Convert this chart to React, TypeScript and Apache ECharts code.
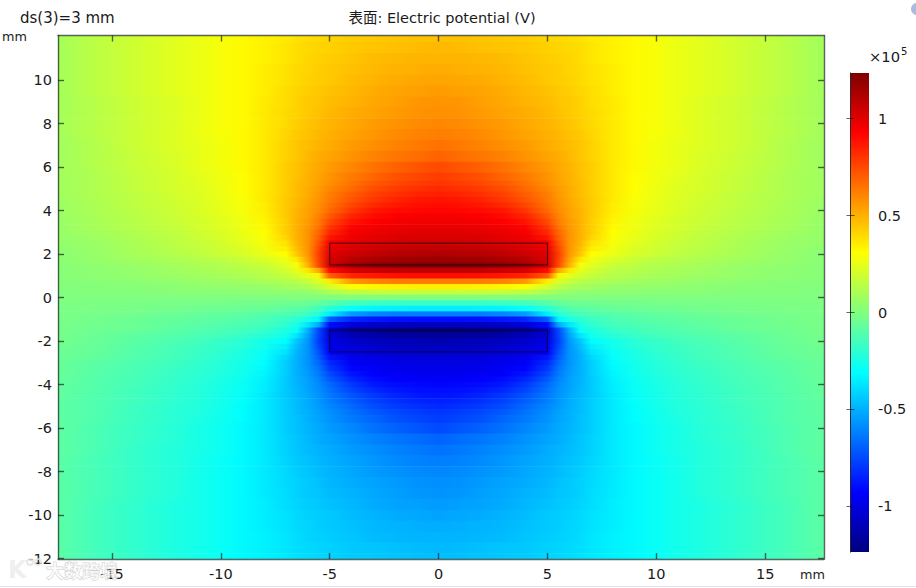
import React, { useEffect, useRef } from "react";
import * as echarts from "echarts";

// x nodes of the left half (mm); the right half reads as its mirror image
const xNodes = [-17.5,-16,-14,-12,-11,-10,-9,-8,-7,-6.5,-6,-5.5,-5,-4,-3,-2,-1,0];
const yNodes = [12,11.5,11,10.5,10,9.5,9,8.5,8,7.5,7,6.5,6,5.5,5.25,5,4.75,4.5,4.25,4,3.75,3.5,3.25,3,2.75,2.5,2.25,2,1.75,1.5,1.25,1,0.75,0.5,0.25,0,
  -0.25,-0.5,-0.75,-1,-1.25,-1.5,-1.75,-2,-2.25,-2.5,-2.75,-3,-3.25,-3.5,-3.75,-4,-4.25,-4.5,-4.75,-5,-5.25,-5.5,-6,-6.5,-7,-7.5,-8,-8.5,-9,-9.5,-10,-10.5,-11,-11.5,-12];
// potential, in units of 1e3 V
const potential = [
[9,14,19,24,26,29,32,34,36,38,39,40,41,43,44,45,46,46],
[9,14,19,24,26,29,32,34,37,39,40,41,42,44,45,46,47,48],
[9,14,19,24,26,29,32,34,37,39,41,42,43,45,47,48,49,49],
[9,14,19,24,26,29,32,35,38,40,41,43,44,46,48,49,50,51],
[9,14,19,24,26,29,32,35,38,40,42,43,44,47,49,51,52,53],
[9,14,19,24,26,29,32,35,39,41,43,44,46,48,51,53,54,55],
[9,13,18,23,26,29,32,36,39,42,44,45,47,49,52,54,56,57],
[9,13,18,23,26,29,32,36,40,42,44,46,48,51,53,55,57,58],
[9,13,18,23,26,29,32,36,40,43,45,47,49,52,55,57,59,60],
[9,13,18,23,26,29,32,36,41,44,46,48,50,53,56,59,61,62],
[8,12,18,23,25,28,32,36,42,45,47,49,51,55,58,61,63,65],
[8,12,17,22,25,28,32,36,42,45,48,51,53,57,61,64,66,69],
[8,12,17,22,25,28,32,36,43,46,49,52,55,60,65,69,72,75],
[8,11,16,21,24,27,31,36,43,46,50,53,57,63,68,73,76,78],
[8,11,16,21,23,27,31,36,43,47,50,54,58,65,71,75,78,80],
[8,11,16,21,23,26,31,36,43,47,51,55,60,67,74,78,81,83],
[8,11,15,20,23,26,30,36,43,47,51,56,62,70,77,81,84,85],
[7,11,15,20,22,26,30,36,44,48,52,57,63,72,79,84,87,88],
[7,10,15,19,22,25,29,35,44,48,53,58,65,76,83,87,89,90],
[7,10,14,19,22,25,29,35,44,49,54,59,67,79,87,90,91,92],
[6,10,14,18,21,24,28,34,44,49,54,61,71,84,90,93,94,94],
[6,9,13,18,20,23,27,33,43,50,55,63,75,88,93,95,96,96],
[6,9,13,17,20,23,27,32,43,50,56,65,79,92,95,97,98,98],
[6,8,12,16,19,22,26,31,43,50,57,68,83,95,97,99,100,100],
[5,7,11,15,18,21,25,30,41,50,57,70,88,97,99,101,102,102],
[5,6,10,15,17,20,24,29,38,49,57,73,95,99,101,103,104,105],
[4,6,10,14,16,19,22,27,35,47,57,76,98,102,105,107,108,108],
[3,5,9,13,15,18,21,26,31,45,56,78,100,105,108,110,111,112],
[3,5,8,11,13,15,18,22,27,37,54,77,102,110,113,115,116,117],
[2,4,6,9,11,12,15,18,24,29,50,76,104,115,119,121,122,122],
[2,3,5,8,9,11,13,15,20,25,37,52,90,102,105,107,108,108],
[2,3,5,7,8,9,11,13,17,20,25,33,70,84,87,89,90,90],
[1,2,3,5,6,7,8,10,12,14,17,22,35,55,60,62,62,62],
[1,1,2,3,4,5,5,6,8,9,11,15,21,30,33,34,35,35],
[0,1,1,2,2,2,3,3,4,4,5,7,10,15,16,17,17,17],
[0,0,0,0,0,0,0,0,0,0,0,0,0,0,0,0,0,0],
[0,-1,-1,-2,-2,-2,-3,-3,-4,-4,-5,-7,-10,-15,-16,-17,-17,-17],
[-1,-1,-2,-3,-4,-5,-5,-6,-8,-9,-11,-15,-21,-30,-33,-34,-35,-35],
[-1,-2,-3,-5,-6,-7,-8,-10,-12,-14,-17,-22,-35,-55,-60,-62,-62,-62],
[-2,-3,-5,-7,-8,-9,-11,-13,-17,-20,-25,-33,-70,-84,-87,-89,-90,-90],
[-2,-3,-5,-8,-9,-11,-13,-15,-20,-25,-37,-52,-90,-102,-105,-107,-108,-108],
[-2,-4,-6,-9,-11,-12,-15,-18,-24,-29,-50,-76,-104,-115,-119,-121,-122,-122],
[-3,-5,-8,-11,-13,-15,-18,-22,-27,-37,-54,-77,-102,-110,-113,-115,-116,-117],
[-3,-5,-9,-13,-15,-18,-21,-26,-31,-45,-56,-78,-100,-105,-108,-110,-111,-112],
[-4,-6,-10,-14,-16,-19,-22,-27,-35,-47,-57,-76,-98,-102,-105,-107,-108,-108],
[-5,-6,-10,-15,-17,-20,-24,-29,-38,-49,-57,-73,-95,-99,-101,-103,-104,-105],
[-5,-7,-11,-15,-18,-21,-25,-30,-41,-50,-57,-70,-88,-97,-99,-101,-102,-102],
[-6,-8,-12,-16,-19,-22,-26,-31,-43,-50,-57,-68,-83,-95,-97,-99,-100,-100],
[-6,-9,-13,-17,-20,-23,-27,-32,-43,-50,-56,-65,-79,-92,-95,-97,-98,-98],
[-6,-9,-13,-18,-20,-23,-27,-33,-43,-50,-55,-63,-75,-88,-93,-95,-96,-96],
[-6,-10,-14,-18,-21,-24,-28,-34,-44,-49,-54,-61,-71,-84,-90,-93,-94,-94],
[-7,-10,-14,-19,-22,-25,-29,-35,-44,-49,-54,-59,-67,-79,-87,-90,-91,-92],
[-7,-10,-15,-19,-22,-25,-29,-35,-44,-48,-53,-58,-65,-76,-83,-87,-89,-90],
[-7,-11,-15,-20,-22,-26,-30,-36,-44,-48,-52,-57,-63,-72,-79,-84,-87,-88],
[-8,-11,-15,-20,-23,-26,-30,-36,-43,-47,-51,-56,-62,-70,-77,-81,-84,-85],
[-8,-11,-16,-21,-23,-26,-31,-36,-43,-47,-51,-55,-60,-67,-74,-78,-81,-83],
[-8,-11,-16,-21,-23,-27,-31,-36,-43,-47,-50,-54,-58,-65,-71,-75,-78,-80],
[-8,-11,-16,-21,-24,-27,-31,-36,-43,-46,-50,-53,-57,-63,-68,-73,-76,-78],
[-8,-12,-17,-22,-25,-28,-32,-36,-43,-46,-49,-52,-55,-60,-65,-69,-72,-75],
[-8,-12,-17,-22,-25,-28,-32,-36,-42,-45,-48,-51,-53,-57,-61,-64,-66,-69],
[-8,-12,-18,-23,-25,-28,-32,-36,-42,-45,-47,-49,-51,-55,-58,-61,-63,-65],
[-9,-13,-18,-23,-26,-29,-32,-36,-41,-44,-46,-48,-50,-53,-56,-59,-61,-62],
[-9,-13,-18,-23,-26,-29,-32,-36,-40,-43,-45,-47,-49,-52,-55,-57,-59,-60],
[-9,-13,-18,-23,-26,-29,-32,-36,-40,-42,-44,-46,-48,-51,-53,-55,-57,-58],
[-9,-13,-18,-23,-26,-29,-32,-36,-39,-42,-44,-45,-47,-49,-52,-54,-56,-57],
[-9,-14,-19,-24,-26,-29,-32,-35,-39,-41,-43,-44,-46,-48,-51,-53,-54,-55],
[-9,-14,-19,-24,-26,-29,-32,-35,-38,-40,-42,-43,-44,-47,-49,-51,-52,-53],
[-9,-14,-19,-24,-26,-29,-32,-35,-38,-40,-41,-43,-44,-46,-48,-49,-50,-51],
[-9,-14,-19,-24,-26,-29,-32,-34,-37,-39,-41,-42,-43,-45,-47,-48,-49,-49],
[-9,-14,-19,-24,-26,-29,-32,-34,-37,-39,-40,-41,-42,-44,-45,-46,-47,-48],
[-9,-14,-19,-24,-26,-29,-32,-34,-36,-38,-39,-40,-41,-43,-44,-45,-46,-46],
];
const plates = [[-5,5,1.5,2.5],[-5,5,-2.5,-1.5]];
const xTicks = [-15,-10,-5,0,5,10,15];
const yTicks = [-12,-10,-8,-6,-4,-2,0,2,4,6,8,10];
const barTicks = [-1,-0.5,0,0.5,1];
const colorRange = 1.235;
const jetColors = ["#00007f","#0000ff","#00ffff","#ffff00","#ff0000","#7f0000"];
const jetStops = [0,0.125,0.375,0.625,0.875,1];

const xLimits = [-17.48,17.7];
const yLimits = [-12.02,12.05];
const font = "DejaVu Sans";
const frame = "rgba(30,40,40,0.72)";

function rgb(hex: string) {
  return [1,3,5].map((i) => parseInt(hex.slice(i,i+2),16));
}
function jet(v: number) {
  const t = Math.min(1,Math.max(0,(v+colorRange)/(2*colorRange)));
  let i = 0;
  while (i < jetStops.length-2 && t > jetStops[i+1]) i++;
  const f = (t-jetStops[i])/(jetStops[i+1]-jetStops[i]);
  const a = rgb(jetColors[i]), b = rgb(jetColors[i+1]);
  return `rgb(${a.map((c,k)=>Math.round(c+(b[k]-c)*f)).join(",")})`;
}
const xAll = [...xNodes, ...xNodes.slice(0,-1).reverse().map((x)=>-x)];
const rowData = yNodes.map((y,i)=>{
  const top = i===0 ? yLimits[1] : (yNodes[i-1]+y)/2;
  const bottom = i===yNodes.length-1 ? yLimits[0] : (yNodes[i+1]+y)/2;
  return [top,bottom,i];
});

function axisBase(extra: any) {
  return {
    type:"value", z:6, splitLine:{show:false},
    axisLine:{show:true,onZero:false,lineStyle:{color:frame,width:1.4}},
    axisTick:{show:true,inside:true,length:6,lineStyle:{color:frame,width:1.4}},
    ...extra,
  };
}

export default function App() {
  const ref = useRef<HTMLDivElement>(null);
  useEffect(()=>{
    document.body.style.margin = "0";
    const chart = echarts.init(ref.current!, null, {renderer:"svg"});
    const labelStyle = {color:"#1a1a1a",fontFamily:font,fontSize:14.5};
    const xCommon = {min:xLimits[0],max:xLimits[1]};
    const yCommon = {min:yLimits[0],max:yLimits[1]};
    chart.setOption({
      animation:false,
      backgroundColor:"#fff",
      grid:[
        {left:58,right:92,top:35.5,bottom:29},
        {left:850.5,right:47,top:73,bottom:36},
      ],
      xAxis:[
        axisBase({...xCommon,gridIndex:0,position:"bottom",
          axisTick:{show:true,inside:true,length:6,customValues:xTicks,lineStyle:{color:frame,width:1.4}},
          axisLabel:{...labelStyle,margin:7,customValues:xTicks,hideOverlap:false}}),
        axisBase({...xCommon,gridIndex:0,position:"top",
          axisTick:{show:true,inside:true,length:6,customValues:xTicks,lineStyle:{color:frame,width:1.4}},
          axisLabel:{show:false}}),
        {type:"value",gridIndex:1,min:0,max:1,show:false},
      ],
      yAxis:[
        axisBase({...yCommon,gridIndex:0,position:"left",
          axisTick:{show:true,inside:true,length:6,customValues:yTicks,lineStyle:{color:frame,width:1.4}},
          axisLabel:{...labelStyle,margin:6,customValues:yTicks,hideOverlap:false}}),
        axisBase({...yCommon,gridIndex:0,position:"right",
          axisTick:{show:true,inside:true,length:6,customValues:yTicks,lineStyle:{color:frame,width:1.4}},
          axisLabel:{show:false}}),
        {type:"value",gridIndex:1,position:"right",z:6,min:-colorRange,max:colorRange,splitLine:{show:false},
          axisLine:{show:true,lineStyle:{color:"rgba(20,20,20,0.6)",width:1}},
          axisTick:{show:true,inside:true,length:4,customValues:barTicks,lineStyle:{color:"rgba(20,20,20,0.65)",width:1}},
          axisLabel:{...labelStyle,margin:9,customValues:barTicks,hideOverlap:false,formatter:(v:number)=>String(v)}},
        {type:"value",gridIndex:1,position:"left",z:6,min:-colorRange,max:colorRange,splitLine:{show:false},
          axisLine:{show:true,lineStyle:{color:"rgba(20,20,20,0.6)",width:1}},
          axisTick:{show:true,inside:true,length:4,customValues:barTicks,lineStyle:{color:"rgba(20,20,20,0.65)",width:1}},
          axisLabel:{show:false}},
      ],
      series:[
        {
          type:"custom",name:"Electric potential (V)",xAxisIndex:0,yAxisIndex:0,clip:true,z:2,silent:true,
          encode:{y:[0,1]},
          data:rowData,
          renderItem:(_p:any,api:any)=>{
            const i = api.value(2);
            const tl = api.coord([xLimits[0],api.value(0)]);
            const br = api.coord([xLimits[1],api.value(1)]);
            const half = potential[i];
            const vals = [...half,...half.slice(0,-1).reverse()];
            const w = br[0]-tl[0];
            const stops = xAll.map((x,k)=>({
              offset:Math.min(1,Math.max(0,(api.coord([x,0])[0]-tl[0])/w)),
              color:jet(vals[k]/100),
            }));
            return {type:"rect",shape:{x:tl[0],y:tl[1],width:w,height:br[1]-tl[1]+0.7},
              style:{fill:new echarts.graphic.LinearGradient(0,0,1,0,stops)}};
          },
        },
        {
          type:"custom",name:"plates",xAxisIndex:0,yAxisIndex:0,z:3,silent:true,
          encode:{x:[0,1],y:[2,3]},
          data:plates,
          renderItem:(_p:any,api:any)=>{
            const a = api.coord([api.value(0),api.value(3)]);
            const b = api.coord([api.value(1),api.value(2)]);
            return {type:"rect",shape:{x:a[0],y:a[1],width:b[0]-a[0],height:b[1]-a[1]},
              style:{fill:"none",stroke:"rgba(10,0,20,0.75)",lineWidth:1}};
          },
        },
        {
          type:"custom",name:"colorbar",xAxisIndex:2,yAxisIndex:2,z:2,silent:true,
          encode:{y:[0,1]},
          data:[[colorRange,-colorRange]],
          renderItem:(_p:any,api:any)=>{
            const a = api.coord([0,api.value(0)]);
            const b = api.coord([1,api.value(1)]);
            const stops = jetStops.map((s,k)=>({offset:1-s,color:jetColors[k]})).reverse();
            return {type:"rect",shape:{x:a[0],y:a[1],width:b[0]-a[0],height:b[1]-a[1]},
              style:{fill:new echarts.graphic.LinearGradient(0,0,0,1,stops)}};
          },
        },
      ],
      graphic:[
        {type:"text",x:20,y:10,silent:true,style:{text:"ds(3)=3 mm",fontFamily:font,fontSize:15,fill:"#1a1a1a"}},
        {type:"text",x:442,y:11,silent:true,style:{text:"表面: Electric potential (V)",align:"center",fontFamily:`${font}, "Noto Sans CJK SC"`,fontSize:14.5,fill:"#1a1a1a"}},
        {type:"text",x:2,y:30,silent:true,style:{text:"mm",fontFamily:font,fontSize:12.8,fill:"#1a1a1a"}},
        {type:"text",x:800,y:568,silent:true,style:{text:"mm",fontFamily:font,fontSize:12.8,fill:"#1a1a1a"}},
        {type:"text",x:869,y:49,silent:true,style:{text:"×10",fontFamily:font,fontSize:14.7,fill:"#1a1a1a"}},
        {type:"text",x:901,y:46,silent:true,style:{text:"5",fontFamily:font,fontSize:10,fill:"#1a1a1a"}},
        {type:"line",silent:true,shape:{x1:0,y1:586.5,x2:916,y2:586.5},style:{stroke:"#e2e2ee",lineWidth:1}},
        {type:"circle",silent:true,shape:{cx:917,cy:9,r:6},style:{fill:"#6f8fc8",opacity:0.6}},
        {type:"text",x:46,y:561,silent:true,z:20,style:{text:"大数跨境",fontFamily:'"Noto Sans CJK SC"',fontSize:18,fontWeight:"bold",fill:"rgba(255,255,255,0.7)",stroke:"rgba(120,120,120,0.35)",lineWidth:1}},
        {type:"text",x:8,y:558,silent:true,z:20,style:{text:"K",fontFamily:font,fontSize:24,fontWeight:"bold",fill:"rgba(235,235,235,0.8)"}},
        {type:"ring",silent:true,z:20,shape:{cx:30,cy:562,r:4,r0:2},style:{fill:"rgba(225,225,225,0.8)"}},
        {type:"ring",silent:true,z:20,shape:{cx:38,cy:562,r:4,r0:2},style:{fill:"rgba(225,225,225,0.8)"}},
      ],
    });
    return ()=>chart.dispose();
  },[]);
  return <div ref={ref} style={{position:"fixed",left:0,top:0,width:916,height:588}} />;
}
